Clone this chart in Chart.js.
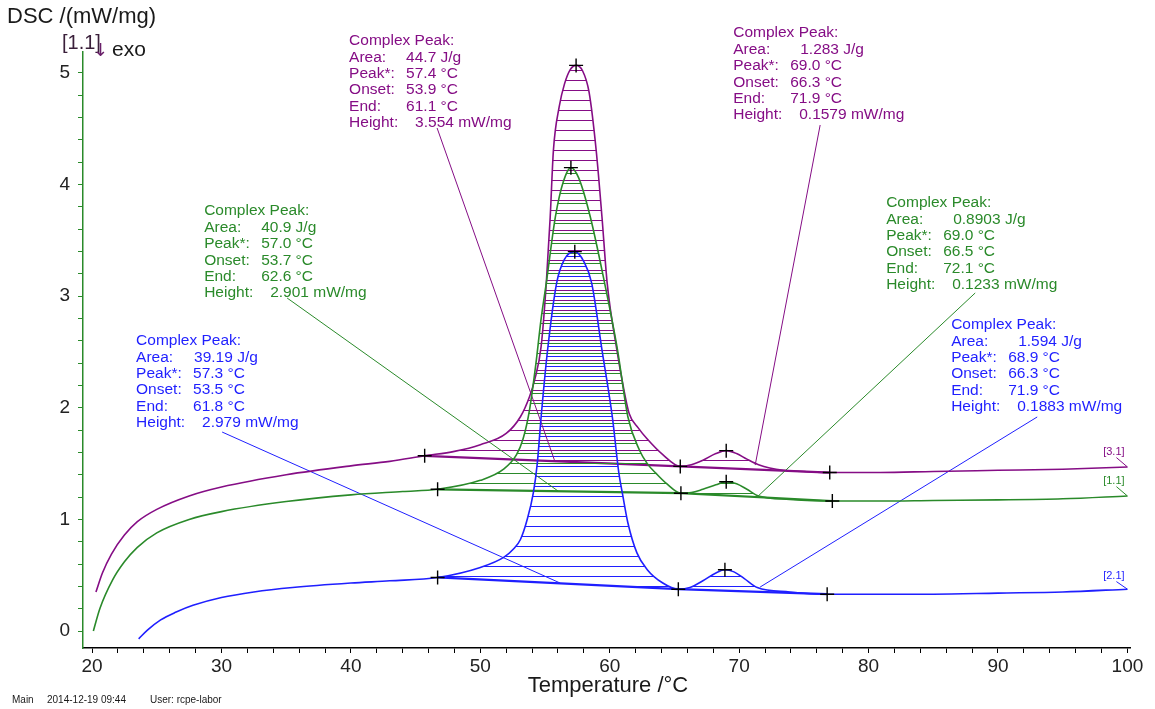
<!DOCTYPE html>
<html>
<head>
<meta charset="utf-8">
<title>DSC</title>
<script src="https://cdn.jsdelivr.net/npm/chart.js@4.4.1/dist/chart.umd.min.js"></script>
<style>
  html, body { margin: 0; padding: 0; background: #fff; }
  #wrap { width: 1155px; height: 709px; position: relative; }
</style>
</head>
<body>
<div id="wrap"><canvas id="dsc" width="1155" height="709"></canvas></div>
<script>
// DSC signal per measurement: [temperature °C, DSC mW/mg]
const curve31 = [
  [20.3, 0.35], [20.8, 0.52], [21.5, 0.69], [22.5, 0.86], [23.5, 0.98], [25, 1.09], [27.5, 1.21],
  [30, 1.29], [35, 1.40], [40, 1.48], [43, 1.52], [45.7, 1.57], [48, 1.61], [50, 1.67], [52, 1.77],
  [53.1, 1.92], [53.8, 2.1], [54.2, 2.25], [54.7, 2.55], [55.1, 3.12], [55.4, 3.71], [55.65, 4.31],
  [56.1, 4.7], [56.5, 4.9], [56.95, 5.03], [57.4, 5.068], [57.9, 5.02], [58.4, 4.83], [58.95, 4.31],
  [59.4, 3.71], [59.8, 3.12], [60.55, 2.52], [61.0, 2.22], [61.5, 1.95], [62.2, 1.82], [62.9, 1.72],
  [64.1, 1.58], [65.45, 1.475], [66.3, 1.49], [67.2, 1.53], [68.2, 1.59], [69.0, 1.616], [69.8, 1.59],
  [70.6, 1.54], [71.5, 1.49], [73.4, 1.44], [75, 1.43], [77, 1.42], [80.9, 1.42], [85, 1.43],
  [90, 1.44], [95, 1.45], [100, 1.47]
];
const curve11 = [
  [20.1, 0.0], [20.6, 0.2], [21.6, 0.46], [22.5, 0.62], [23.5, 0.75], [25, 0.88], [27.5, 1.0],
  [30, 1.07], [35, 1.16], [40, 1.22], [44, 1.25], [46.7, 1.27], [50, 1.35], [51.8, 1.45], [52.8, 1.58],
  [53.3, 1.72], [53.8, 1.98], [54.3, 2.4], [54.7, 2.8], [55.1, 3.12], [55.8, 3.71], [56.4, 4.02],
  [57.0, 4.152], [57.6, 4.06], [58.5, 3.71], [59.6, 3.12], [60.6, 2.52], [61.4, 1.92], [62.3, 1.62],
  [62.9, 1.5], [63.6, 1.41], [64.4, 1.32], [65.5, 1.235], [66.3, 1.24], [67.2, 1.27], [68.2, 1.31],
  [69.0, 1.337], [69.8, 1.32], [70.6, 1.27], [71.5, 1.21], [73.9, 1.18], [77.2, 1.165], [80.9, 1.165],
  [85, 1.17], [90, 1.175], [95, 1.185], [100, 1.21]
];
const curve21 = [
  [23.6, -0.07], [24.3, 0.01], [25.3, 0.1], [26.5, 0.17], [27.8, 0.23], [30, 0.3], [32.5, 0.35],
  [35.5, 0.39], [40, 0.43], [43, 0.45], [46.7, 0.48], [50, 0.57], [51.8, 0.66], [52.6, 0.74],
  [53.1, 0.82], [53.6, 0.99], [54.1, 1.24], [54.4, 1.5], [54.7, 1.92], [55.2, 2.52], [55.9, 3.12],
  [56.5, 3.33], [57.3, 3.399], [58.0, 3.31], [58.6, 3.12], [59.4, 2.52], [60.2, 1.92], [60.7, 1.42],
  [61.0, 1.22], [61.4, 0.97], [62.1, 0.7], [62.9, 0.55], [64.1, 0.43], [65.3, 0.375], [66.2, 0.39],
  [67.2, 0.45], [68.2, 0.52], [68.9, 0.549], [69.6, 0.53], [70.4, 0.47], [71.4, 0.39], [73.9, 0.35],
  [76.8, 0.33], [80.9, 0.33], [85, 0.33], [90, 0.34], [95, 0.35], [100, 0.375]
];

// integration baselines: onset of first peak, split point, end of second peak
const baseline31 = [[45.7, 1.57], [65.45, 1.475], [77.0, 1.42]];
const baseline11 = [[46.7, 1.27], [65.5, 1.235], [77.2, 1.165]];
const baseline21 = [[46.7, 0.48], [65.3, 0.375], [76.8, 0.33]];

// peak evaluation results
const peaks31 = [
  { area: 44.7, peak: 57.4, onset: 53.9, end: 61.1, height: 3.554 },
  { area: 1.283, peak: 69.0, onset: 66.3, end: 71.9, height: 0.1579 }
];
const peaks11 = [
  { area: 40.9, peak: 57.0, onset: 53.7, end: 62.6, height: 2.901 },
  { area: 0.8903, peak: 69.0, onset: 66.5, end: 72.1, height: 0.1233 }
];
const peaks21 = [
  { area: 39.19, peak: 57.3, onset: 53.5, end: 61.8, height: 2.979 },
  { area: 1.594, peak: 68.9, onset: 66.3, end: 71.9, height: 0.1883 }
];

const xTickValues = [20, 22, 24, 26, 28, 30, 32, 34, 36, 38, 40, 42, 44, 46, 48, 50, 52, 54, 56, 58, 60,
  62, 64, 66, 68, 70, 72, 74, 76, 78, 80, 82, 84, 86, 88, 90, 92, 94, 96, 98, 100];
const yTickValues = [0, 0.2, 0.4, 0.6, 0.8, 1, 1.2, 1.4, 1.6, 1.8, 2, 2.2, 2.4, 2.6, 2.8, 3, 3.2, 3.4,
  3.6, 3.8, 4, 4.2, 4.4, 4.6, 4.8, 5];

const FONT = '"Liberation Sans", Arial, sans-serif';

const series = [
  { tag: '[2.1]', curve: curve21, baseline: baseline21, peaks: peaks21, color: '#1f1fff', hatchOff: 6,
    tagAt: [98.9, 0.493], tagTo: [100, 0.375] },
  { tag: '[1.1]', curve: curve11, baseline: baseline11, peaks: peaks11, color: '#2a8a2a', hatchOff: 3,
    tagAt: [98.9, 1.344], tagTo: [100, 1.21] },
  { tag: '[3.1]', curve: curve31, baseline: baseline31, peaks: peaks31, color: '#850d85', hatchOff: 0,
    tagAt: [98.9, 1.604], tagTo: [100, 1.47] }
];

// text boxes: which peak, where the box sits and where the pointer line runs (data units)
const callouts = [
  { s: 2, p: 0, at: [39.86, 5.287], areaDx: 57, from: [46.66, 4.507], to: [55.78, 1.514] },
  { s: 2, p: 1, at: [69.54, 5.358], areaDx: 67, from: [76.26, 4.534], to: [71.24, 1.487] },
  { s: 1, p: 0, at: [28.66, 3.763], areaDx: 57, from: [35.07, 2.984], to: [56.01, 1.254] },
  { s: 1, p: 1, at: [81.36, 3.835], areaDx: 67, from: [88.24, 3.029], to: [71.47, 1.210] },
  { s: 0, p: 0, at: [23.40, 2.599], areaDx: 58, from: [30.05, 1.783], to: [56.17, 0.430] },
  { s: 0, p: 1, at: [86.38, 2.742], areaDx: 67, from: [93.03, 1.918], to: [71.62, 0.394] }
];

const pts = arr => arr.map(([x, y]) => ({ x, y }));

function baselineAt(base, t) {
  for (let i = 0; i < base.length - 1; i++) {
    const [x0, y0] = base[i], [x1, y1] = base[i + 1];
    if (t >= x0 && t <= x1) return y0 + (y1 - y0) * (t - x0) / (x1 - x0);
  }
  return base[base.length - 1][1];
}

function hatch(color, offset) {
  const c = document.createElement('canvas');
  c.width = 8; c.height = 10;
  const g = c.getContext('2d');
  g.fillStyle = color;
  g.fillRect(0, offset, 8, 1);
  return g.createPattern(c, 'repeat');
}

// markers: baseline limits plus peak tops (baseline + reported height)
const markerPts = [];
series.forEach(s => {
  s.baseline.forEach(([x, y]) => markerPts.push({ x, y }));
  s.peaks.forEach(p => markerPts.push({ x: p.peak, y: baselineAt(s.baseline, p.peak) + p.height }));
});

const datasets = [];
datasets.push({
  data: markerPts, showLine: false, pointStyle: 'cross', pointRadius: 7,
  pointBorderColor: '#000', pointBorderWidth: 1.4
});
const curveIndex = [];
series.forEach(s => {
  curveIndex.push(datasets.length);
  datasets.push({
    data: pts(s.curve), borderColor: s.color, borderWidth: 1.6, pointRadius: 0,
    cubicInterpolationMode: 'monotone', fill: false
  });
});
callouts.forEach(c => {
  datasets.push({
    data: pts([c.from, c.to]), borderColor: series[c.s].color, borderWidth: 1,
    pointRadius: 0, fill: false
  });
});
series.forEach(s => {
  datasets.push({
    data: pts([s.tagTo, [s.tagAt[0] + 0.25, s.tagAt[1] - 0.05]]), borderColor: s.color,
    borderWidth: 1, pointRadius: 0, fill: false
  });
});
series.forEach((s, i) => {
  datasets.push({
    data: pts(s.baseline), borderColor: s.color, borderWidth: 2.2, pointRadius: 0,
    fill: curveIndex[i], backgroundColor: hatch(s.color, s.hatchOff)
  });
});

const textPlugin = {
  id: 'dscText',
  afterDraw(chart) {
    const { ctx, scales: { x, y } } = chart;
    ctx.save();
    ctx.textBaseline = 'middle';
    ctx.textAlign = 'left';

    ctx.fillStyle = '#1a1a1a';
    ctx.font = '22px ' + FONT;
    ctx.fillText('DSC /(mW/mg)', 7, 17);
    ctx.fillStyle = '#3a1f3a';
    ctx.font = '20px ' + FONT;
    ctx.fillText('[1.1]', 62, 43);
    ctx.fillStyle = '#6a206a';
    ctx.font = '18px "DejaVu Sans", sans-serif';
    ctx.fillText('\u2193', 93, 51);
    ctx.fillStyle = '#1a1a1a';
    ctx.font = '21px ' + FONT;
    ctx.fillText('exo', 112, 50);

    ctx.textAlign = 'center';
    ctx.font = '22px ' + FONT;
    ctx.fillText('Temperature /\u00b0C', 608, 686);

    ctx.textAlign = 'left';
    ctx.font = '10px ' + FONT;
    ctx.fillText('Main', 12, 700);
    ctx.fillText('2014-12-19 09:44', 47, 700);
    ctx.fillText('User: rcpe-labor', 150, 700);

    ctx.font = '15.5px ' + FONT;
    callouts.forEach(c => {
      const s = series[c.s], p = s.peaks[c.p];
      const left = x.getPixelForValue(c.at[0]);
      const top = y.getPixelForValue(c.at[1]);
      const rows = [
        ['Complex Peak:', '', 0],
        ['Area:', p.area + ' J/g', c.areaDx],
        ['Peak*:', p.peak.toFixed(1) + ' \u00b0C', 57],
        ['Onset:', p.onset.toFixed(1) + ' \u00b0C', 57],
        ['End:', p.end.toFixed(1) + ' \u00b0C', 57],
        ['Height:', p.height + ' mW/mg', 66]
      ];
      ctx.fillStyle = s.color;
      rows.forEach((r, i) => {
        const ty = top + i * 16.4;
        ctx.fillText(r[0], left, ty);
        if (r[1]) ctx.fillText(r[1], left + r[2], ty);
      });
    });

    ctx.font = '11px ' + FONT;
    series.forEach(s => {
      ctx.fillStyle = s.color;
      ctx.fillText(s.tag, x.getPixelForValue(s.tagAt[0]) - 10, y.getPixelForValue(s.tagAt[1]));
    });
    ctx.restore();
  }
};

new Chart(document.getElementById('dsc'), {
  type: 'line',
  data: { datasets },
  options: {
    responsive: false,
    animation: false,
    devicePixelRatio: 1,
    layout: { padding: { top: 52, right: 25, left: 0, bottom: 0 } },
    plugins: { legend: { display: false }, tooltip: { enabled: false } },
    elements: { line: { tension: 0 } },
    scales: {
      x: {
        type: 'linear', min: 19.3, max: 100.2,
        afterBuildTicks: s => { s.ticks = xTickValues.map(v => ({ value: v })); },
        afterFit: s => { s.height = 61; },
        ticks: {
          callback: v => (v % 10 === 0 ? v : ''), autoSkip: false, maxRotation: 0,
          font: { family: FONT, size: 19 }, color: '#222', padding: 2
        },
        grid: { drawOnChartArea: false, drawTicks: true, tickLength: 5, tickColor: '#000' },
        border: { color: '#000', width: 1.5 }
      },
      y: {
        type: 'linear', min: -0.152, max: 5.188,
        afterBuildTicks: s => { s.ticks = yTickValues.map(v => ({ value: v })); },
        afterFit: s => { s.width = 83; },
        ticks: {
          callback: v => (Number.isInteger(v) ? v : ''), autoSkip: false,
          font: { family: FONT, size: 19 }, color: '#222', padding: 8
        },
        grid: { drawOnChartArea: false, drawTicks: true, tickLength: 5, tickColor: '#2a8a2a' },
        border: { color: '#2a8a2a', width: 1.5 }
      }
    }
  },
  plugins: [textPlugin]
});
</script>
</body>
</html>
